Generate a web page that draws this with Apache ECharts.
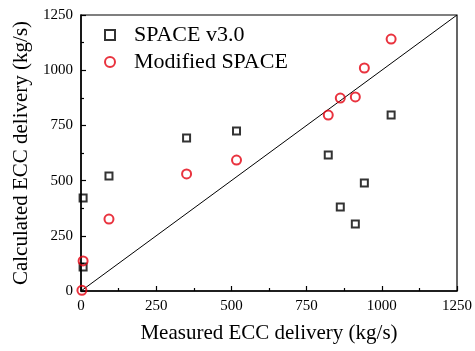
<!DOCTYPE html>
<html>
<head>
<meta charset="utf-8">
<script src="https://cdn.jsdelivr.net/npm/echarts@6/dist/echarts.min.js"></script>
<style>
  html, body { margin: 0; padding: 0; background: #fff; }
  #main { width: 475px; height: 351px; }
</style>
</head>
<body>
<div id="main"></div>
<script>
// measured / calculated ECC delivery (kg/s)
const spaceX = [7, 7, 93, 351, 517, 822, 862, 912, 942, 1031]
const spaceY = [421, 109, 521, 693, 725, 616, 380, 303, 489, 797]
const modX = [3, 7, 93, 351, 517, 822, 862, 912, 942, 1031]
const modY = [3, 136, 326, 530, 593, 797, 874, 879, 1010, 1141]
const refLine = [[0, 0], [1250, 1250]]

const font = 'Liberation Serif, Times New Roman, serif'
const red = '#e3000f'

function pairs(xs, ys) {
  return xs.map((x, i) => [x, ys[i]])
}

var myChart = echarts.init(document.getElementById('main'))
var option = {
  animation: false,
  backgroundColor: '#fff',
  grid: {
    left: 81,
    right: 17,
    top: 15,
    bottom: 60,
    show: true,
    borderColor: '#000',
    borderWidth: 1.2,
  },
  legend: {
    orient: 'vertical',
    left: 99,
    top: 19,
    itemGap: 5,
    itemWidth: 10,
    itemHeight: 10,
    data: [
      { name: 'SPACE v3.0', icon: 'rect' },
      { name: 'Modified SPACE', icon: 'circle' },
    ],
    textStyle: { fontFamily: font, fontSize: 22, color: '#000', padding: [0, 0, 0, 14] },
  },
  xAxis: {
    type: 'value',
    min: 0,
    max: 1250,
    interval: 250,
    name: 'Measured ECC delivery (kg/s)',
    nameLocation: 'middle',
    nameGap: 32,
    nameTextStyle: { fontFamily: font, fontSize: 21, color: '#000' },
    axisLine: { lineStyle: { color: '#000', width: 1.5 } },
    axisTick: { inside: true, length: 5, lineStyle: { color: '#000', width: 1.2 } },
    minorTick: { show: true, splitNumber: 2, length: 3, lineStyle: { color: '#000', width: 1.2 } },
    axisLabel: { fontFamily: font, fontSize: 15, color: '#000', margin: 8, formatter: (v) => String(v) },
    splitLine: { show: false },
  },
  yAxis: {
    type: 'value',
    min: 0,
    max: 1250,
    interval: 250,
    name: 'Calculated ECC delivery (kg/s)',
    nameLocation: 'middle',
    nameGap: 48,
    nameTextStyle: { fontFamily: font, fontSize: 21, color: '#000' },
    axisLine: { lineStyle: { color: '#000', width: 1.5 } },
    axisTick: { inside: true, length: 5, lineStyle: { color: '#000', width: 1.2 } },
    minorTick: { show: true, splitNumber: 2, length: 3, lineStyle: { color: '#000', width: 1.2 } },
    axisLabel: { fontFamily: font, fontSize: 15, color: '#000', margin: 8, formatter: (v) => String(v) },
    splitLine: { show: false },
  },
  series: [
    {
      name: 'ref',
      type: 'line',
      data: refLine,
      symbol: 'none',
      lineStyle: { color: '#000', width: 1 },
      z: 1,
    },
    {
      name: 'SPACE v3.0',
      type: 'scatter',
      data: pairs(spaceX, spaceY),
      symbol: 'rect',
      symbolSize: 7,
      itemStyle: { color: 'rgba(0,0,0,0)', borderColor: '#000', borderWidth: 2 },
      z: 3,
    },
    {
      name: 'Modified SPACE',
      type: 'scatter',
      data: pairs(modX, modY),
      symbol: 'circle',
      symbolSize: 9,
      itemStyle: { color: 'rgba(0,0,0,0)', borderColor: red, borderWidth: 2 },
      z: 3,
    },
  ],
}

option && myChart.setOption(option)
window.addEventListener('resize', function () {
  myChart.resize()
})
</script>
</body>
</html>
